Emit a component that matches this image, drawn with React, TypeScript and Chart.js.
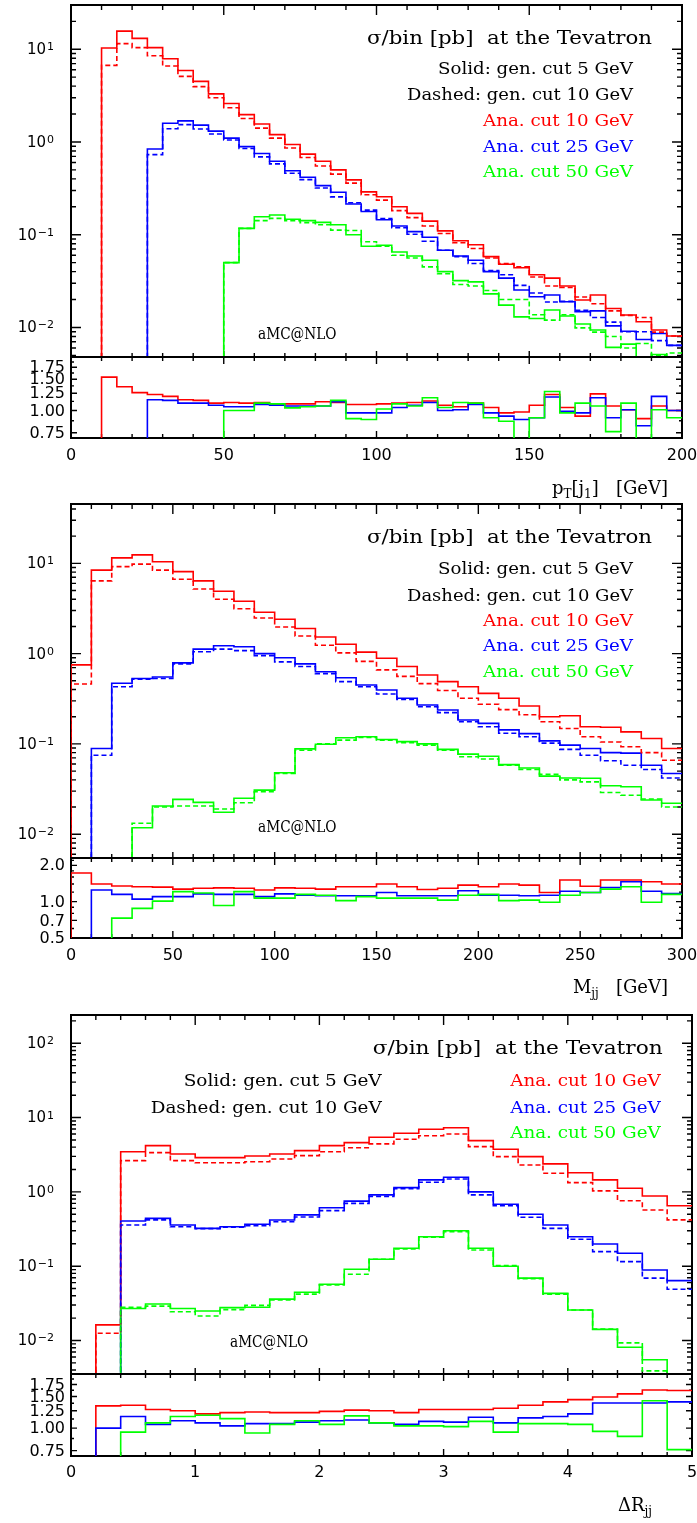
import React, { useEffect, useRef } from "react";
import { Chart, registerables } from "chart.js";

Chart.register(...registerables);

const RED = "#ff0000";
const BLUE = "#0000ff";
const GREEN = "#00ff00";
const FLOOR = 1e-5;
const W = 697;

// ---------------- Panel 1 : pT[j1]  (5 GeV bins) ----------------
const PT_BIN = 5;
const ptRedStart = 10;
const ptRedSolid = [10.3, 15.7, 13.1, 10.4, 7.9, 5.9, 4.5, 3.3, 2.6, 1.97, 1.56, 1.2, 0.94, 0.74, 0.62, 0.5, 0.39, 0.29, 0.257, 0.2, 0.17, 0.14, 0.11, 0.086, 0.078, 0.058, 0.048, 0.044, 0.037, 0.034, 0.028, 0.0198, 0.0224, 0.016, 0.0136, 0.0115, 0.0094, 0.0081];
const ptRedDashed = [6.7, 11.5, 10.4, 8.5, 6.6, 5.1, 3.95, 3.0, 2.34, 1.79, 1.41, 1.1, 0.86, 0.68, 0.55, 0.45, 0.36, 0.27, 0.236, 0.182, 0.153, 0.124, 0.103, 0.082, 0.071, 0.056, 0.049, 0.045, 0.035, 0.028, 0.027, 0.0213, 0.018, 0.0151, 0.0135, 0.0128, 0.0089, 0.0081];
const ptBlueStart = 25;
const ptBlueSolid = [0.84, 1.59, 1.69, 1.52, 1.31, 1.1, 0.89, 0.75, 0.62, 0.49, 0.417, 0.338, 0.287, 0.214, 0.178, 0.145, 0.124, 0.108, 0.094, 0.068, 0.059, 0.053, 0.04, 0.034, 0.0253, 0.0214, 0.0224, 0.0189, 0.0148, 0.0151, 0.0104, 0.0091, 0.0074, 0.0086, 0.0064];
const ptBlueDashed = [0.73, 1.39, 1.54, 1.38, 1.22, 1.05, 0.85, 0.69, 0.58, 0.46, 0.393, 0.319, 0.256, 0.221, 0.184, 0.149, 0.119, 0.101, 0.085, 0.068, 0.058, 0.049, 0.041, 0.037, 0.0284, 0.0235, 0.0188, 0.0191, 0.0153, 0.0128, 0.0114, 0.009, 0.009, 0.0072, 0.0064];
const ptGreenStart = 50;
const ptGreenSolid = [0.05, 0.117, 0.156, 0.163, 0.147, 0.142, 0.136, 0.128, 0.1, 0.075, 0.077, 0.065, 0.059, 0.053, 0.04, 0.032, 0.031, 0.023, 0.0174, 0.013, 0.0125, 0.0154, 0.0133, 0.0109, 0.0094, 0.0061, 0.0066, 0.004, 0.0051, 0.0048];
const ptGreenDashed = [0.05, 0.117, 0.142, 0.15, 0.142, 0.135, 0.128, 0.112, 0.111, 0.084, 0.075, 0.06, 0.056, 0.045, 0.038, 0.029, 0.028, 0.025, 0.02, 0.02, 0.0137, 0.012, 0.0137, 0.0099, 0.0089, 0.008, 0.006, 0.0067, 0.005, 0.0053];
const ptRatioRed = [1.54, 1.36, 1.26, 1.23, 1.2, 1.15, 1.14, 1.1, 1.11, 1.1, 1.11, 1.09, 1.09, 1.09, 1.12, 1.11, 1.08, 1.08, 1.09, 1.1, 1.11, 1.13, 1.07, 1.05, 1.1, 1.04, 0.97, 0.98, 1.07, 1.23, 1.04, 0.93, 1.24, 1.06, 1.01, 0.9, 1.06, 1.0];
const ptRatioBlue = [1.15, 1.14, 1.1, 1.1, 1.07, 1.05, 1.05, 1.08, 1.07, 1.06, 1.06, 1.06, 1.12, 0.97, 0.97, 0.97, 1.04, 1.07, 1.11, 1.0, 1.01, 1.08, 0.97, 0.93, 0.89, 0.91, 1.19, 0.99, 0.97, 1.18, 0.91, 1.01, 0.82, 1.2, 1.0];
const ptRatioGreen = [1.0, 1.0, 1.1, 1.09, 1.035, 1.05, 1.06, 1.14, 0.9, 0.89, 1.02, 1.09, 1.06, 1.18, 1.04, 1.11, 1.1, 0.91, 0.87, 0.65, 0.91, 1.28, 0.97, 1.1, 1.06, 0.76, 1.1, 0.6, 1.01, 0.91];
const ptTickLabels = [0, 50, 100, 150, 200];

// ---------------- Panel 2 : M_jj  (10 GeV bins) ----------------
const M_BIN = 10;
const mRedStart = 0;
const mRedSolid = [0.75, 8.4, 11.5, 12.4, 10.4, 8.1, 6.4, 4.9, 3.8, 2.87, 2.4, 1.9, 1.53, 1.27, 1.04, 0.89, 0.72, 0.58, 0.49, 0.43, 0.363, 0.32, 0.263, 0.2, 0.205, 0.155, 0.153, 0.136, 0.115, 0.089];
const mRedDashed = [0.46, 6.4, 9.2, 9.8, 8.4, 6.65, 5.2, 4.0, 3.14, 2.48, 1.97, 1.57, 1.24, 1.02, 0.82, 0.66, 0.56, 0.465, 0.39, 0.32, 0.275, 0.24, 0.21, 0.176, 0.148, 0.12, 0.105, 0.093, 0.08, 0.066];
const mBlueStart = 10;
const mBlueSolid = [0.089, 0.47, 0.53, 0.55, 0.79, 1.12, 1.22, 1.19, 1.0, 0.9, 0.77, 0.63, 0.54, 0.45, 0.395, 0.32, 0.27, 0.237, 0.184, 0.169, 0.143, 0.13, 0.108, 0.097, 0.089, 0.08, 0.079, 0.058, 0.047];
const mBlueDashed = [0.075, 0.43, 0.52, 0.53, 0.77, 1.05, 1.12, 1.08, 0.95, 0.81, 0.72, 0.6, 0.49, 0.43, 0.357, 0.31, 0.258, 0.222, 0.176, 0.155, 0.131, 0.12, 0.102, 0.087, 0.075, 0.065, 0.058, 0.052, 0.042];
const mGreenStart = 30;
const mGreenSolid = [0.0118, 0.0205, 0.0243, 0.0225, 0.0175, 0.025, 0.0308, 0.048, 0.088, 0.099, 0.117, 0.12, 0.112, 0.106, 0.1, 0.087, 0.077, 0.073, 0.059, 0.054, 0.044, 0.042, 0.0416, 0.0344, 0.0336, 0.0239, 0.022];
const mGreenDashed = [0.0132, 0.02, 0.0205, 0.0205, 0.019, 0.0223, 0.0295, 0.047, 0.085, 0.1, 0.11, 0.118, 0.11, 0.103, 0.097, 0.085, 0.072, 0.068, 0.058, 0.052, 0.046, 0.04, 0.038, 0.029, 0.027, 0.0245, 0.02];
const mRatioRedStart = 0;
const mRatioRed = [1.73, 1.4, 1.35, 1.33, 1.32, 1.27, 1.29, 1.3, 1.29, 1.25, 1.3, 1.29, 1.27, 1.33, 1.33, 1.4, 1.33, 1.26, 1.29, 1.37, 1.33, 1.4, 1.37, 1.19, 1.51, 1.34, 1.51, 1.51, 1.46, 1.4];
const mRatioBlueStart = 10;
const mRatioBlue = [1.25, 1.15, 1.05, 1.1, 1.1, 1.16, 1.15, 1.15, 1.1, 1.16, 1.13, 1.12, 1.12, 1.12, 1.19, 1.12, 1.12, 1.12, 1.23, 1.13, 1.13, 1.12, 1.13, 1.22, 1.19, 1.31, 1.46, 1.22, 1.17];
const mRatioGreenStart = 20;
const mRatioGreen = [0.73, 0.88, 1.01, 1.21, 1.18, 0.93, 1.21, 1.07, 1.07, 1.15, 1.13, 1.02, 1.1, 1.07, 1.07, 1.07, 1.03, 1.13, 1.15, 1.02, 1.03, 0.99, 1.13, 1.19, 1.27, 1.33, 0.99, 1.15];
const mTickLabels = [0, 50, 100, 150, 200, 250, 300];

// ---------------- Panel 3 : Delta R_jj  (0.2 bins) ----------------
const DR_BIN = 0.2;
const dRedStart = 0.2;
const dRedSolid = [0.0162, 3.47, 4.19, 3.24, 2.89, 2.89, 3.04, 3.24, 3.59, 4.19, 4.6, 5.43, 6.15, 6.96, 7.3, 4.89, 3.74, 2.98, 2.38, 1.81, 1.45, 1.12, 0.88, 0.65];
const dRedDashed = [0.0125, 2.63, 3.37, 2.63, 2.47, 2.47, 2.54, 2.77, 3.07, 3.47, 3.93, 4.42, 5.1, 5.7, 6.0, 4.06, 2.98, 2.3, 1.78, 1.33, 1.03, 0.76, 0.57, 0.42];
const dBlueStart = 0.4;
const dBlueSolid = [0.405, 0.44, 0.358, 0.323, 0.34, 0.366, 0.418, 0.49, 0.61, 0.75, 0.91, 1.14, 1.45, 1.57, 1.0, 0.68, 0.5, 0.358, 0.249, 0.199, 0.149, 0.089, 0.064];
const dBlueDashed = [0.358, 0.42, 0.34, 0.32, 0.335, 0.35, 0.397, 0.46, 0.56, 0.7, 0.87, 1.1, 1.35, 1.49, 0.91, 0.65, 0.455, 0.323, 0.23, 0.157, 0.115, 0.069, 0.049];
const dGreenStart = 0.4;
const dGreenSolid = [0.027, 0.031, 0.027, 0.0249, 0.0277, 0.028, 0.036, 0.0446, 0.057, 0.091, 0.124, 0.174, 0.249, 0.3, 0.174, 0.1, 0.069, 0.043, 0.0257, 0.0141, 0.0081, 0.0055];
const dGreenDashed = [0.028, 0.029, 0.0244, 0.0214, 0.026, 0.0297, 0.035, 0.042, 0.056, 0.078, 0.124, 0.17, 0.245, 0.29, 0.165, 0.102, 0.068, 0.042, 0.0257, 0.0143, 0.0093, 0.0039];
const dRatioRedStart = 0.2;
const dRatioRed = [1.33, 1.34, 1.27, 1.25, 1.2, 1.22, 1.23, 1.22, 1.22, 1.24, 1.26, 1.25, 1.22, 1.27, 1.27, 1.27, 1.29, 1.34, 1.4, 1.44, 1.49, 1.55, 1.63, 1.62];
const dRatioBlueStart = 0.2;
const dRatioBlue = [1.0, 1.16, 1.05, 1.1, 1.07, 1.03, 1.06, 1.06, 1.08, 1.1, 1.11, 1.07, 1.05, 1.09, 1.08, 1.15, 1.07, 1.14, 1.16, 1.2, 1.38, 1.38, 1.38, 1.4];
const dRatioGreenStart = 0.4;
const dRatioGreen = [0.95, 1.07, 1.16, 1.18, 1.13, 0.94, 1.05, 1.1, 1.05, 1.17, 1.07, 1.03, 1.03, 1.02, 1.09, 0.95, 1.06, 1.06, 1.05, 0.96, 0.9, 1.42, 0.76];
const dTickLabels = [0, 1, 2, 3, 4, 5];

// ---------------- text ----------------
const TITLE = "\u03c3/bin [pb]  at the Tevatron";
const SOLID_TXT = "Solid: gen. cut 5 GeV";
const DASHED_TXT = "Dashed: gen. cut 10 GeV";
const ANA10 = "Ana. cut 10 GeV";
const ANA25 = "Ana. cut 25 GeV";
const ANA50 = "Ana. cut 50 GeV";
const AMC = "aMC@NLO";
const ratioLabels17 = ["0.75", "1.00", "1.25", "1.50", "1.75"];
const ratioLabelsM = ["0.5", "0.7", "1.0", "2.0"];

type Pt = { x: number; y: number };
function hist(start: number, bin: number, vals: number[], drop: boolean): Pt[] {
  const pts: Pt[] = [{ x: start, y: FLOOR }];
  vals.forEach((v, i) => pts.push({ x: start + i * bin, y: v > 0 ? v : FLOOR }));
  const last = vals[vals.length - 1];
  const end = start + vals.length * bin;
  pts.push({ x: end, y: last > 0 ? last : FLOOR });
  if (drop) pts.push({ x: end, y: FLOOR });
  return pts;
}

function fitText(ctx: any, text: string, x: number, y: number, w: number, align: string, font: string, color: string) {
  ctx.save();
  ctx.font = font;
  ctx.fillStyle = color;
  ctx.textBaseline = "middle";
  ctx.textAlign = "left";
  const m = ctx.measureText(text).width;
  const sx = w / m;
  const x0 = align === "left" ? x : x - w;
  ctx.translate(x0, y);
  ctx.scale(sx, 1);
  ctx.fillText(text, 0, 0);
  ctx.restore();
}

function logTicks(min: number, max: number) {
  const out: { v: number; len: number }[] = [];
  for (let e = Math.floor(Math.log10(min)); e <= Math.ceil(Math.log10(max)); e++) {
    for (let m = 1; m <= 9; m++) {
      const v = m * Math.pow(10, e);
      if (v >= min && v <= max) out.push({ v, len: m === 1 ? 10 : 5 });
    }
  }
  return out;
}

function stepTicks(min: number, max: number, step: number, majorEvery: number, majLen: number, minLen: number) {
  const out: { v: number; len: number }[] = [];
  const n = Math.round((max - min) / step);
  for (let i = 0; i <= n; i++) {
    const v = Math.round((min + i * step) * 1e6) / 1e6;
    const isMajor = Math.abs(v / majorEvery - Math.round(v / majorEvery)) < 1e-6;
    out.push({ v, len: isMajor ? majLen : minLen });
  }
  return out;
}

interface Series { start: number; vals: number[]; color: string; dashed?: boolean; drop?: boolean }
interface Spec {
  top: number; height: number;
  area: number[];
  x: number[]; y: number[];
  bin: number;
  series: Series[];
  xTop: { v: number; len: number }[];
  xBot: { v: number; len: number }[];
  yTicks: { v: number; len: number }[];
  draw: (ctx: any, chart: any, off: number) => void;
}

function Plot({ spec }: { spec: Spec }) {
  const ref = useRef<HTMLCanvasElement>(null);
  useEffect(() => {
    const canvas = ref.current as HTMLCanvasElement;
    const datasets = spec.series.map((s) => ({
      data: hist(s.start, spec.bin, s.vals, !!s.drop),
      borderColor: s.color,
      borderWidth: 1.6,
      borderDash: s.dashed ? [5, 3] : [],
      pointRadius: 0,
      stepped: true,
      fill: false,
      tension: 0,
    }));
    const [l, t, r, b] = spec.area;
    const deco = {
      id: "deco",
      beforeDatasetsDraw(chart: any) {
        const ctx = chart.ctx;
        const a = chart.chartArea;
        const xs = chart.scales.x;
        const ys = chart.scales.y;
        ctx.save();
        ctx.strokeStyle = "#000";
        ctx.lineWidth = 1.4;
        ctx.beginPath();
        spec.xTop.forEach((tk) => {
          const px = xs.getPixelForValue(tk.v);
          ctx.moveTo(px, a.top);
          ctx.lineTo(px, a.top + tk.len);
        });
        spec.xBot.forEach((tk) => {
          const px = xs.getPixelForValue(tk.v);
          ctx.moveTo(px, a.bottom);
          ctx.lineTo(px, a.bottom - tk.len);
        });
        spec.yTicks.forEach((tk) => {
          const py = ys.getPixelForValue(tk.v);
          ctx.moveTo(a.left, py);
          ctx.lineTo(a.left + tk.len, py);
          ctx.moveTo(a.right, py);
          ctx.lineTo(a.right - tk.len, py);
        });
        ctx.stroke();
        ctx.lineWidth = 2;
        ctx.strokeRect(a.left, a.top, a.right - a.left, a.bottom - a.top);
        ctx.restore();
      },
      afterDatasetsDraw(chart: any) {
        spec.draw(chart.ctx, chart, spec.top);
      },
    };
    const chart = new Chart(canvas, {
      type: "line",
      data: { datasets } as any,
      options: {
        animation: false,
        responsive: false,
        maintainAspectRatio: false,
        events: [],
        layout: { padding: { left: l, right: W - r, top: t - spec.top, bottom: spec.top + spec.height - b } },
        plugins: { legend: { display: false }, tooltip: { enabled: false }, title: { display: false } },
        scales: {
          x: { type: "linear", min: spec.x[0], max: spec.x[1], display: false },
          y: { type: "logarithmic", min: spec.y[0], max: spec.y[1], display: false },
        },
      } as any,
      plugins: [deco as any],
    });
    return () => chart.destroy();
  }, []);
  return (
    <canvas
      ref={ref}
      width={W}
      height={spec.height}
      style={{ position: "absolute", left: 0, top: spec.top, width: W, height: spec.height }}
    />
  );
}

function powLabels(ctx: any, chart: any, exps: number[]) {
  exps.forEach((e) => {
    const y = chart.scales.y.getPixelForValue(Math.pow(10, e));
    ctx.save();
    ctx.fillStyle = "#000";
    ctx.textAlign = "right";
    ctx.font = '11px "DejaVu Sans"';
    const es = e < 0 ? "\u2212" + -e : String(e);
    const ew = ctx.measureText(es).width;
    ctx.textBaseline = "alphabetic";
    ctx.fillText(es, 54, y + 1);
    ctx.font = '15px "DejaVu Sans"';
    ctx.textBaseline = "middle";
    ctx.fillText("10", 54 - ew - 1, y + 1);
    ctx.restore();
  });
}

function valueLabels(ctx: any, chart: any, labels: string[]) {
  ctx.save();
  ctx.fillStyle = "#000";
  ctx.textAlign = "right";
  ctx.textBaseline = "middle";
  ctx.font = '16px "DejaVu Sans"';
  labels.forEach((s) => {
    const y = chart.scales.y.getPixelForValue(parseFloat(s));
    ctx.fillText(s, 65, y + 1);
  });
  ctx.restore();
}

function xLabels(ctx: any, chart: any, vals: number[], yPage: number, off: number) {
  ctx.save();
  ctx.fillStyle = "#000";
  ctx.textAlign = "center";
  ctx.textBaseline = "middle";
  ctx.font = '16px "DejaVu Sans"';
  vals.forEach((v) => ctx.fillText(String(v), chart.scales.x.getPixelForValue(v), yPage - off));
  ctx.restore();
}

function axisTitle(ctx: any, parts: { t: string; sub?: boolean }[], right: number, base: number) {
  ctx.save();
  ctx.fillStyle = "#000";
  ctx.textBaseline = "alphabetic";
  ctx.textAlign = "left";
  const big = '18px "DejaVu Serif"';
  const small = '12px "DejaVu Serif"';
  let total = 0;
  parts.forEach((p) => {
    ctx.font = p.sub ? small : big;
    total += ctx.measureText(p.t).width;
  });
  let x = right - total;
  parts.forEach((p) => {
    ctx.font = p.sub ? small : big;
    ctx.fillText(p.t, x, base + (p.sub ? 4 : 0));
    x += ctx.measureText(p.t).width;
  });
  ctx.restore();
}

const SERIF = (px: number) => `${px}px "DejaVu Serif"`;

function mainAnnotations(ctx: any, off: number, o: any) {
  fitText(ctx, TITLE, o.titleR, o.titleY - off, o.titleW, "right", SERIF(18), "#000");
  fitText(ctx, SOLID_TXT, o.solidR, o.solidY - off, o.solidW, "right", SERIF(17), "#000");
  fitText(ctx, DASHED_TXT, o.solidR, o.dashedY - off, o.dashedW, "right", SERIF(17), "#000");
  fitText(ctx, ANA10, o.anaR, o.a10Y - off, 150, "right", SERIF(17), RED);
  fitText(ctx, ANA25, o.anaR, o.a25Y - off, 150, "right", SERIF(17), BLUE);
  fitText(ctx, ANA50, o.anaR, o.a50Y - off, 150, "right", SERIF(17), GREEN);
  fitText(ctx, AMC, o.amcL, o.amcY - off, 78.5, "left", SERIF(16), "#000");
}

const specs: Spec[] = [
  {
    top: 0, height: 360, area: [71, 5, 682, 357], x: [0, 200], y: [0.0048, 30], bin: PT_BIN,
    series: [
      { start: ptGreenStart, vals: ptGreenDashed, color: GREEN, dashed: true },
      { start: ptBlueStart, vals: ptBlueDashed, color: BLUE, dashed: true },
      { start: ptRedStart, vals: ptRedDashed, color: RED, dashed: true },
      { start: ptGreenStart, vals: ptGreenSolid, color: GREEN },
      { start: ptBlueStart, vals: ptBlueSolid, color: BLUE },
      { start: ptRedStart, vals: ptRedSolid, color: RED },
    ],
    xTop: stepTicks(0, 200, 10, 50, 10, 5),
    xBot: stepTicks(0, 200, 10, 50, 6, 4),
    yTicks: logTicks(0.0048, 30),
    draw: (ctx, chart, off) => {
      powLabels(ctx, chart, [-2, -1, 0, 1]);
      mainAnnotations(ctx, off, {
        titleR: 652, titleY: 39.5, titleW: 285, solidR: 633, solidY: 70, solidW: 195, dashedY: 96, dashedW: 226,
        anaR: 633, a10Y: 122, a25Y: 147.5, a50Y: 173, amcL: 258, amcY: 334.5,
      });
    },
  },
  {
    top: 354, height: 146, area: [71, 357, 682, 438], x: [0, 200], y: [0.7, 2.0], bin: PT_BIN,
    series: [
      { start: ptGreenStart, vals: ptRatioGreen, color: GREEN },
      { start: ptBlueStart, vals: ptRatioBlue, color: BLUE },
      { start: ptRedStart, vals: ptRatioRed, color: RED },
    ],
    xTop: stepTicks(0, 200, 10, 50, 7, 4),
    xBot: stepTicks(0, 200, 10, 50, 7, 4),
    yTicks: stepTicks(0.75, 2.0, 0.125, 0.25, 6, 3),
    draw: (ctx, chart, off) => {
      valueLabels(ctx, chart, ratioLabels17);
      xLabels(ctx, chart, ptTickLabels, 456, off);
      axisTitle(ctx, [{ t: "p" }, { t: "T", sub: true }, { t: "[j" }, { t: "1", sub: true }, { t: "]   [GeV]" }], 668, 494 - off);
    },
  },
  {
    top: 500, height: 361, area: [71, 504, 682, 858], x: [0, 300], y: [0.00545, 45.4], bin: M_BIN,
    series: [
      { start: mGreenStart, vals: mGreenDashed, color: GREEN, dashed: true },
      { start: mBlueStart, vals: mBlueDashed, color: BLUE, dashed: true },
      { start: mRedStart, vals: mRedDashed, color: RED, dashed: true },
      { start: mGreenStart, vals: mGreenSolid, color: GREEN },
      { start: mBlueStart, vals: mBlueSolid, color: BLUE },
      { start: mRedStart, vals: mRedSolid, color: RED },
    ],
    xTop: stepTicks(0, 300, 10, 50, 10, 5),
    xBot: stepTicks(0, 300, 10, 50, 6, 4),
    yTicks: logTicks(0.00545, 45.4),
    draw: (ctx, chart, off) => {
      powLabels(ctx, chart, [-2, -1, 0, 1]);
      mainAnnotations(ctx, off, {
        titleR: 652, titleY: 538.5, titleW: 285, solidR: 633, solidY: 570, solidW: 195, dashedY: 596.5, dashedW: 226,
        anaR: 633, a10Y: 621.7, a25Y: 646.7, a50Y: 672.5, amcL: 258, amcY: 827.7,
      });
    },
  },
  {
    top: 855, height: 145, area: [71, 858, 682, 938], x: [0, 300], y: [0.5, 2.3], bin: M_BIN,
    series: [
      { start: mRatioGreenStart, vals: mRatioGreen, color: GREEN },
      { start: mRatioBlueStart, vals: mRatioBlue, color: BLUE },
      { start: mRatioRedStart, vals: mRatioRed, color: RED },
    ],
    xTop: stepTicks(0, 300, 10, 50, 7, 4),
    xBot: stepTicks(0, 300, 10, 50, 7, 4),
    yTicks: [
      { v: 0.5, len: 6 }, { v: 0.6, len: 3 }, { v: 0.7, len: 6 }, { v: 0.8, len: 3 }, { v: 0.9, len: 3 },
      { v: 1.0, len: 6 }, { v: 1.2, len: 3 }, { v: 1.4, len: 3 }, { v: 1.6, len: 3 }, { v: 1.8, len: 3 },
      { v: 2.0, len: 6 }, { v: 2.2, len: 3 },
    ],
    draw: (ctx, chart, off) => {
      valueLabels(ctx, chart, ratioLabelsM);
      xLabels(ctx, chart, mTickLabels, 956, off);
      axisTitle(ctx, [{ t: "M" }, { t: "jj", sub: true }, { t: "   [GeV]" }], 668, 993 - off);
    },
  },
  {
    top: 1000, height: 377, area: [71, 1015, 692, 1374], x: [0, 5], y: [0.00354, 240], bin: DR_BIN,
    series: [
      { start: dGreenStart, vals: dGreenDashed, color: GREEN, dashed: true, drop: true },
      { start: dBlueStart, vals: dBlueDashed, color: BLUE, dashed: true, drop: true },
      { start: dRedStart, vals: dRedDashed, color: RED, dashed: true, drop: true },
      { start: dGreenStart, vals: dGreenSolid, color: GREEN, drop: true },
      { start: dBlueStart, vals: dBlueSolid, color: BLUE, drop: true },
      { start: dRedStart, vals: dRedSolid, color: RED, drop: true },
    ],
    xTop: stepTicks(0, 5, 0.2, 1, 10, 5),
    xBot: stepTicks(0, 5, 0.2, 1, 6, 4),
    yTicks: logTicks(0.00354, 240),
    draw: (ctx, chart, off) => {
      powLabels(ctx, chart, [-2, -1, 0, 1, 2]);
      fitText(ctx, TITLE, 662.7, 1049.3 - off, 290, "right", SERIF(18), "#000");
      fitText(ctx, SOLID_TXT, 381.7, 1081.7 - off, 198, "right", SERIF(17), "#000");
      fitText(ctx, DASHED_TXT, 381.7, 1108.3 - off, 231, "right", SERIF(17), "#000");
      fitText(ctx, ANA10, 660.7, 1081.7 - off, 150.5, "right", SERIF(17), RED);
      fitText(ctx, ANA25, 660.7, 1108.3 - off, 150.5, "right", SERIF(17), BLUE);
      fitText(ctx, ANA50, 660.7, 1134 - off, 150.5, "right", SERIF(17), GREEN);
      fitText(ctx, AMC, 230, 1343.3 - off, 78.3, "left", SERIF(16), "#000");
    },
  },
  {
    top: 1371, height: 152, area: [71, 1374, 692, 1456], x: [0, 5], y: [0.7, 2.0], bin: DR_BIN,
    series: [
      { start: dRatioGreenStart, vals: dRatioGreen, color: GREEN, drop: true },
      { start: dRatioBlueStart, vals: dRatioBlue, color: BLUE, drop: true },
      { start: dRatioRedStart, vals: dRatioRed, color: RED, drop: true },
    ],
    xTop: stepTicks(0, 5, 0.2, 1, 7, 4),
    xBot: stepTicks(0, 5, 0.2, 1, 7, 4),
    yTicks: stepTicks(0.75, 2.0, 0.125, 0.25, 6, 3),
    draw: (ctx, chart, off) => {
      valueLabels(ctx, chart, ratioLabels17);
      xLabels(ctx, chart, dTickLabels, 1473, off);
      axisTitle(ctx, [{ t: "\u0394R" }, { t: "jj", sub: true }], 652, 1511 - off);
    },
  },
];

export default function App() {
  return (
    <div style={{ position: "absolute", left: 0, top: 0, width: W, height: 1523, background: "#fff" }}>
      {specs.map((s, i) => (
        <Plot key={i} spec={s} />
      ))}
    </div>
  );
}
